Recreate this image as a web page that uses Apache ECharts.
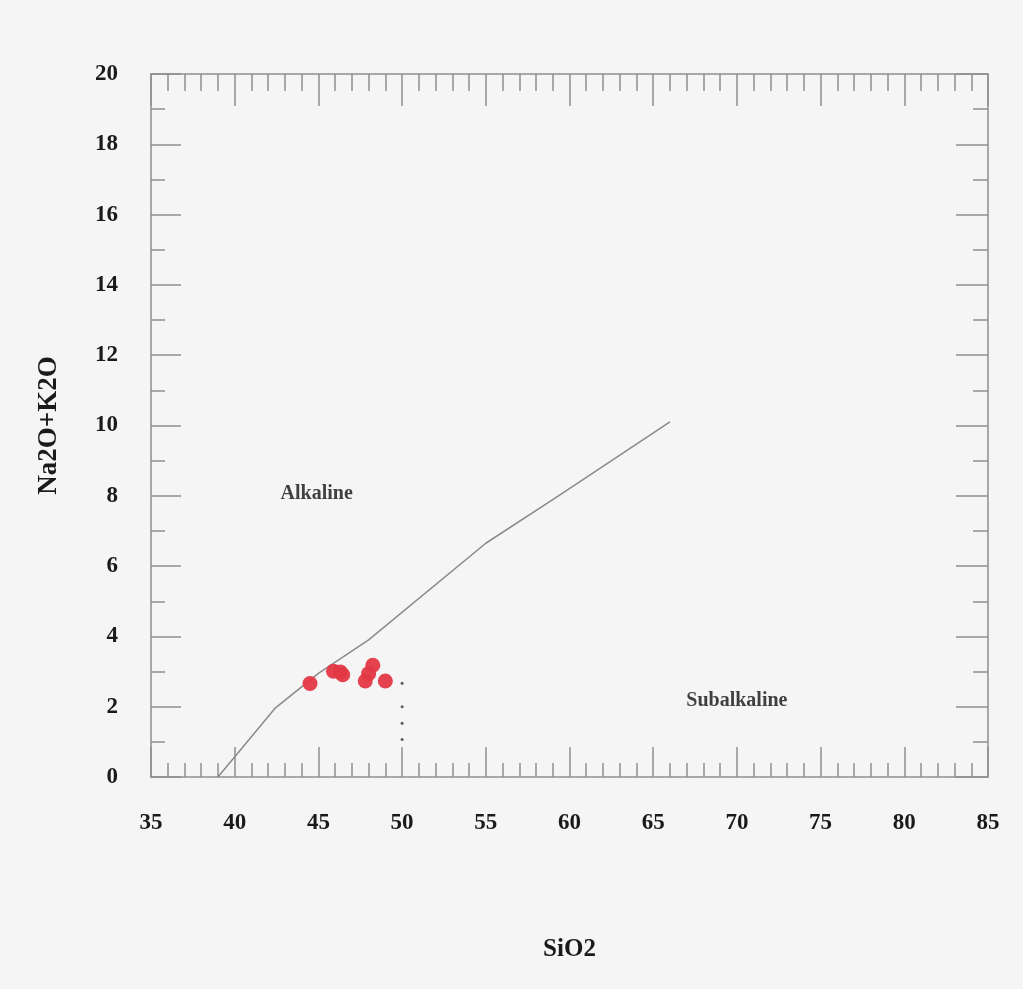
<!DOCTYPE html>
<html>
<head>
<meta charset="utf-8">
<title>SiO2 vs Na2O+K2O</title>
<script src="https://cdn.jsdelivr.net/npm/echarts@6/dist/echarts.min.js"></script>
<style>
  html, body { margin: 0; padding: 0; background: #f5f5f5; }
  #chart { width: 1023px; height: 989px; }
</style>
</head>
<body>
<div id="chart"></div>
<script>
// Sample analyses (wt%)
const sampleSiO2    = [44.5, 45.9, 46.3, 46.45, 48.25, 48.0, 47.8, 49.0];
const sampleAlkalis = [2.66, 3.01, 2.99, 2.91, 3.18, 2.94, 2.73, 2.73];

// Alkaline / subalkaline dividing line
const boundarySiO2    = [39.0, 42.4, 45.0, 48.0, 55.0, 59.5, 66.0];
const boundaryAlkalis = [0.0, 1.95, 2.95, 3.9, 6.65, 8.05, 10.1];

// Small dotted marks at SiO2 = 50
const dotSiO2    = [50, 50, 50, 50];
const dotAlkalis = [2.67, 2.0, 1.53, 1.07];

// Field names and where they sit
const fieldNames   = ['Alkaline', 'Subalkaline'];
const fieldSiO2    = [44.9, 70.0];
const fieldAlkalis = [8.07, 2.18];

const FONT = "'Liberation Serif', 'DejaVu Serif', serif";
const AXIS_GREY = '#8e8e8e';

const zip = (a, b) => a.map((v, i) => [v, b[i]]);

const chart = echarts.init(document.getElementById('chart'));

const lineStyle = { color: AXIS_GREY, width: 1.5 };
const frameLine = { show: true, onZero: false, lineStyle };

chart.setOption({
  backgroundColor: '#f5f5f5',
  animation: false,
  grid: { left: 151, right: 35, top: 74, bottom: 212 },
  xAxis: [
    {
      type: 'value', position: 'bottom',
      min: 35, max: 85, interval: 5,
      name: 'SiO2', nameLocation: 'middle', nameGap: 160,
      nameTextStyle: { fontFamily: FONT, fontWeight: 'bold', fontSize: 25, color: '#1a1a1a' },
      axisLine: frameLine,
      axisTick: { show: true, inside: true, length: 30, lineStyle },
      minorTick: { show: true, splitNumber: 5, length: 14, lineStyle },
      axisLabel: { margin: 35, fontFamily: FONT, fontWeight: 'bold', fontSize: 23, color: '#1a1a1a' },
      splitLine: { show: false }
    },
    {
      type: 'value', position: 'top',
      min: 35, max: 85, interval: 5,
      axisLine: frameLine,
      axisTick: { show: true, inside: true, length: 32, lineStyle },
      minorTick: { show: true, splitNumber: 5, length: 17, lineStyle },
      axisLabel: { show: false },
      splitLine: { show: false }
    }
  ],
  yAxis: [
    {
      type: 'value', position: 'left',
      min: 0, max: 20, interval: 2,
      name: 'Na2O+K2O', nameLocation: 'middle', nameGap: 88, nameRotate: 90,
      nameTextStyle: { fontFamily: FONT, fontWeight: 'bold', fontSize: 27, color: '#1a1a1a' },
      axisLine: frameLine,
      axisTick: { show: true, inside: true, length: 30, lineStyle },
      minorTick: { show: true, splitNumber: 2, length: 14, lineStyle },
      axisLabel: { margin: 33, fontFamily: FONT, fontWeight: 'bold', fontSize: 23, color: '#1a1a1a' },
      splitLine: { show: false }
    },
    {
      type: 'value', position: 'right',
      min: 0, max: 20, interval: 2,
      axisLine: frameLine,
      axisTick: { show: true, inside: true, length: 32, lineStyle },
      minorTick: { show: true, splitNumber: 2, length: 15, lineStyle },
      axisLabel: { show: false },
      splitLine: { show: false }
    }
  ],
  series: [
    {
      name: 'boundary', type: 'line',
      data: zip(boundarySiO2, boundaryAlkalis),
      showSymbol: false, symbol: 'none',
      lineStyle: { color: '#8a8a8a', width: 1.5 },
      z: 2
    },
    {
      name: 'dots', type: 'scatter',
      data: zip(dotSiO2, dotAlkalis),
      symbol: 'circle', symbolSize: 3,
      itemStyle: { color: '#333' },
      z: 3
    },
    {
      name: 'samples', type: 'scatter',
      data: zip(sampleSiO2, sampleAlkalis),
      symbol: 'circle', symbolSize: 15,
      itemStyle: { color: '#e13844', opacity: 0.95 },
      z: 4
    },
    {
      name: 'fields', type: 'scatter',
      data: fieldNames.map((n, i) => ({ name: n, value: [fieldSiO2[i], fieldAlkalis[i]] })),
      symbolSize: 1,
      itemStyle: { color: 'rgba(0,0,0,0)' },
      label: {
        show: true, position: 'inside',
        formatter: p => p.name,
        fontFamily: FONT, fontWeight: 'bold', fontSize: 20, color: '#111'
      },
      silent: true,
      z: 5
    }
  ]
});
</script>
</body>
</html>
